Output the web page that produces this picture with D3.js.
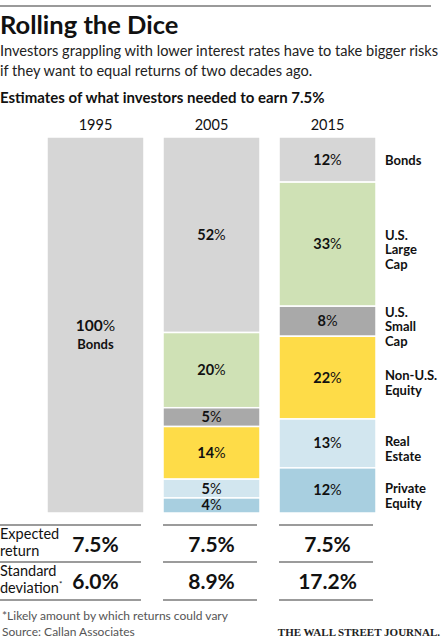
<!DOCTYPE html>
<html>
<head>
<meta charset="utf-8">
<style>
  body { margin: 0; background: #fff; }
  svg { display: block; font-family: Lato, "Open Sans", sans-serif; }
</style>
</head>
<body>
<script src="https://cdn.jsdelivr.net/npm/d3@7"></script>
<script>
    // data
    const years = ["1995", "2005", "2015"];
    const assets = ["Bonds", "U.S. Large Cap", "U.S. Small Cap", "Non-U.S. Equity", "Real Estate", "Private Equity"];
    const assetLabels = [["Bonds"], ["U.S.", "Large", "Cap"], ["U.S.", "Small", "Cap"], ["Non-U.S.", "Equity"], ["Real", "Estate"], ["Private", "Equity"]];
    const shares1995 = [100, 0, 0, 0, 0, 0];
    const shares2005 = [52, 20, 5, 14, 5, 4];
    const shares2015 = [12, 33, 8, 22, 13, 12];
    const expectedReturn = ["7.5%", "7.5%", "7.5%"];
    const standardDeviation = ["6.0%", "8.9%", "17.2%"];

    const colors = ["#d6d6d6", "#cfe1b5", "#a9a9a9", "#fedc48", "#d2e6ef", "#a8cfe0"];

    const width = 444;
    const height = 640;

    const rows = years.map((yr, i) => {
        const shares = [shares1995, shares2005, shares2015][i];
        const row = { year: yr };
        assets.forEach((a, j) => row[a] = shares[j]);
        return row;
    });

    const stacked = d3.stack().keys(assets)(rows);

    const x = d3.scaleBand()
        .domain(years)
        .range([47, 376])
        .paddingInner(0.164)
        .paddingOuter(0);

    const y = d3.scaleLinear()
        .domain([0, 100])
        .range([137, 513]);

    const color = d3.scaleOrdinal().domain(assets).range(colors);

    const svg = d3.select("body")
        .append("svg")
        .attr("width", width)
        .attr("height", height);

    // header
    svg.append("line")
        .attr("x1", 0).attr("x2", 431)
        .attr("y1", 6).attr("y2", 6)
        .attr("stroke", "#9a9a9a")
        .attr("stroke-width", 2);

    svg.append("text")
        .attr("x", 0).attr("y", 34)
        .attr("font-size", 25.5)
        .attr("font-weight", "bold")
        .attr("fill", "#111")
        .text("Rolling the Dice");

    svg.selectAll(".sub")
        .data(["Investors grappling with lower interest rates have to take bigger risks",
               "if they want to equal returns of two decades ago."])
        .enter()
        .append("text")
        .attr("class", "sub")
        .attr("x", 0)
        .attr("y", (d, i) => 56 + i * 20)
        .attr("font-size", 14.6)
        .attr("fill", "#222")
        .text(d => d);

    svg.append("text")
        .attr("x", 0).attr("y", 103)
        .attr("font-size", 15)
        .attr("font-weight", "bold")
        .attr("fill", "#111")
        .text("Estimates of what investors needed to earn 7.5%");

    svg.selectAll(".year")
        .data(years)
        .enter()
        .append("text")
        .attr("class", "year")
        .attr("x", d => x(d) + x.bandwidth() / 2)
        .attr("y", 130)
        .attr("text-anchor", "middle")
        .attr("font-size", 14.5)
        .attr("fill", "#111")
        .text(d => d);

    // stacked bars
    const layer = svg.selectAll(".layer")
        .data(stacked)
        .enter()
        .append("g")
        .attr("class", "layer")
        .attr("fill", d => color(d.key));

    layer.selectAll("rect")
        .data(d => d.filter(p => p[1] - p[0] > 0))
        .enter()
        .append("rect")
        .attr("x", d => x(d.data.year))
        .attr("y", d => y(d[0]))
        .attr("width", x.bandwidth())
        .attr("height", d => y(d[1]) - y(d[0]))
        .attr("stroke", "#fff")
        .attr("stroke-width", 1.5);

    // percent labels inside the bars
    const pctLabels = [];
    stacked.forEach(s => s.forEach(p => {
        const v = p[1] - p[0];
        if (v > 0) pctLabels.push({ year: p.data.year, value: v, mid: (p[0] + p[1]) / 2, key: s.key });
    }));

    const pct = svg.selectAll(".pct")
        .data(pctLabels)
        .enter()
        .append("text")
        .attr("class", "pct")
        .attr("x", d => x(d.year) + x.bandwidth() / 2)
        .attr("y", d => y(d.mid) + (d.value === 100 ? 6 : 5))
        .attr("text-anchor", "middle")
        .attr("font-size", d => d.value === 100 ? 15.5 : 14.5)
        .attr("fill", "#111");
    pct.append("tspan").attr("font-weight", "bold").text(d => d.value);
    pct.append("tspan").text("%");

    svg.selectAll(".solo")
        .data(pctLabels.filter(d => d.value === 100))
        .enter()
        .append("text")
        .attr("class", "solo")
        .attr("x", d => x(d.year) + x.bandwidth() / 2)
        .attr("y", d => y(d.mid) + 24)
        .attr("text-anchor", "middle")
        .attr("font-size", 13)
        .attr("font-weight", "bold")
        .attr("fill", "#111")
        .text(d => d.key);

    // asset labels at the right of the 2015 bar
    const last = stacked.map(s => s[2]);
    const lineH = 14.5;
    const side = svg.selectAll(".side")
        .data(assets)
        .enter()
        .append("text")
        .attr("class", "side")
        .attr("x", x("2015") + x.bandwidth() + 9)
        .attr("y", (d, i) => {
            const n = assetLabels[i].length;
            return y((last[i][0] + last[i][1]) / 2) - (n - 1) * lineH / 2 + (n > 1 ? 10 : 5);
        })
        .attr("font-size", 13)
        .attr("font-weight", "bold")
        .attr("fill", "#111");
    side.selectAll("tspan")
        .data((d, i) => assetLabels[i])
        .enter()
        .append("tspan")
        .attr("x", x("2015") + x.bandwidth() + 9)
        .attr("dy", (d, i) => i === 0 ? 0 : lineH)
        .text(d => d);

    // table below
    const ruleYs = [525, 562, 600];
    ruleYs.forEach(ry => {
        years.forEach((yr, i) => {
            svg.append("line")
                .attr("x1", i === 0 ? 0 : x(yr))
                .attr("x2", x(yr) + x.bandwidth() - 3)
                .attr("y1", ry).attr("y2", ry)
                .attr("stroke", "#7a7a7a")
                .attr("stroke-width", 1.5);
        });
    });

    const tableRows = [
        { lines: ["Expected", "return"], values: expectedReturn, top: 525 },
        { lines: ["Standard", "deviation"], values: standardDeviation, top: 562 }
    ];

    tableRows.forEach((r, k) => {
        const t = svg.append("text")
            .attr("x", 0)
            .attr("y", r.top + 14)
            .attr("font-size", 14.5)
            .attr("fill", "#111");
        r.lines.forEach((ln, i) => {
            t.append("tspan").attr("x", 0).attr("dy", i === 0 ? 0 : 17).text(ln);
            if (k === 1 && i === 1) {
                t.append("tspan").attr("font-size", 8).attr("dy", -6).text("*");
            }
        });
        svg.selectAll(".val" + k)
            .data(r.values)
            .enter()
            .append("text")
            .attr("x", (d, i) => x(years[i]) + x.bandwidth() / 2)
            .attr("y", r.top + 27)
            .attr("text-anchor", "middle")
            .attr("font-size", 21)
            .attr("font-weight", "bold")
            .attr("fill", "#111")
            .text(d => d);
    });

    // footer
    svg.append("text")
        .attr("x", 2).attr("y", 620)
        .attr("font-size", 12)
        .attr("fill", "#555")
        .text("*Likely amount by which returns could vary");

    svg.append("text")
        .attr("x", 2).attr("y", 636)
        .attr("font-size", 12)
        .attr("fill", "#555")
        .text("Source: Callan Associates");

    svg.append("text")
        .attr("x", 440).attr("y", 636)
        .attr("text-anchor", "end")
        .attr("font-family", "'Liberation Serif', 'DejaVu Serif', serif")
        .attr("font-size", 11)
        .attr("font-weight", "bold")
        .attr("fill", "#222")
        .text("THE WALL STREET JOURNAL.");
</script>
</body>
</html>
